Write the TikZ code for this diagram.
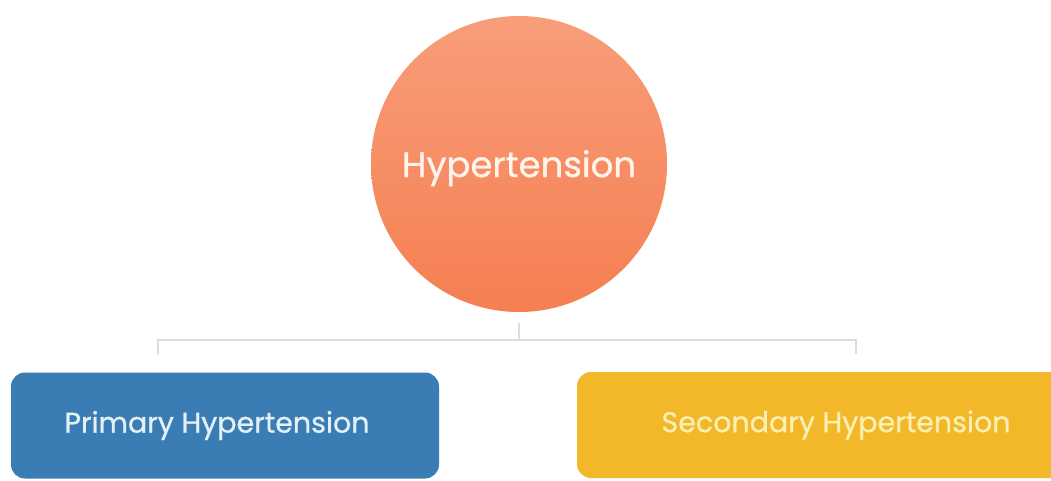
\documentclass[tikz,border=0pt]{standalone}
\usepackage{fontspec}
\setmainfont{Poppins}[FakeBold=0.8]
\definecolor{circtop}{HTML}{F89D7A}
\definecolor{circbot}{HTML}{F57F51}
\definecolor{boxblue}{HTML}{3A7DB5}
\definecolor{boxyel}{HTML}{F2B829}
\definecolor{linec}{HTML}{E4DCD3}
\definecolor{txtcirc}{HTML}{FFF4EC}
\definecolor{txtblue}{HTML}{E3F0F6}
\definecolor{txtyel}{HTML}{FCEFB2}
\tikzset{
  hub/.style={circle, minimum size=296pt, inner sep=0pt, top color=circtop, bottom color=circbot, draw=none,
    text=txtcirc, font=\fontsize{35.5}{40}\selectfont},
  catbox/.style={rounded corners=14pt, minimum height=106pt, inner sep=0pt, draw=none,
    font=\fontsize{28.5}{34}\selectfont},
  conn/.style={draw=linec, line width=2pt}
}
\begin{document}
\begin{tikzpicture}[x=1pt,y=-1pt]
\clip (0,0) rectangle (1051,480);
\fill[white] (0,0) rectangle (1051,480);
\node[hub] (hyp) at (519,164) {\raisebox{-13pt}[0pt][0pt]{Hypertension}};
\node[catbox, fill=boxblue, text=txtblue, minimum width=428pt] (prim) at (225,425.5) {Primary Hypertension\hspace*{16pt}};
\node[catbox, fill=boxyel, text=txtyel, minimum width=518pt] (sec) at (836,425) {Secondary Hypertension};
\coordinate (top) at (519,323);
\coordinate (j) at (519,340);
\coordinate (lt) at (158,340);
\coordinate (lb) at (158,355);
\coordinate (rt) at (856,340);
\coordinate (rb) at (856,354);
\draw[conn] (top) -- (j);
\draw[conn] (lb) -- (lt) -- (rt) -- (rb);
\end{tikzpicture}
\end{document}
